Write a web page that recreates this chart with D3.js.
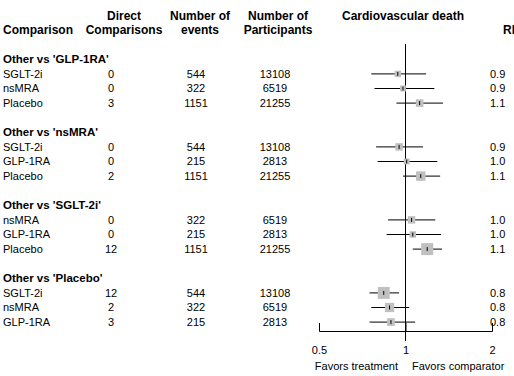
<!DOCTYPE html>
<html>
<head>
<meta charset="utf-8">
<script src="https://cdn.jsdelivr.net/npm/d3@7"></script>
<style>
  body { margin: 0; background: #fff; }
  svg { display: block; font-family: "Liberation Sans", Arial, sans-serif; }
</style>
</head>
<body>
<svg></svg>
<script>
// comparators (one block each) and the treatments compared against them
const comparators = ["GLP-1RA", "nsMRA", "SGLT-2i", "Placebo"];
const treatments = [
  ["SGLT-2i", "nsMRA", "Placebo"],
  ["SGLT-2i", "GLP-1RA", "Placebo"],
  ["nsMRA", "GLP-1RA", "Placebo"],
  ["SGLT-2i", "nsMRA", "GLP-1RA"]
];
const directComparisons = [[0, 0, 3], [0, 0, 2], [0, 0, 12], [12, 2, 3]];
const events = [[544, 322, 1151], [544, 215, 1151], [322, 215, 1151], [544, 322, 215]];
const participants = [[13108, 6519, 21255], [13108, 2813, 21255], [6519, 2813, 21255], [13108, 6519, 2813]];
const rr = [[0.94, 0.98, 1.12], [0.95, 1.01, 1.13], [1.05, 1.06, 1.19], [0.84, 0.88, 0.89]];
const rrLower = [[0.76, 0.78, 0.93], [0.79, 0.80, 0.98], [0.87, 0.86, 1.06], [0.75, 0.76, 0.75]];
const rrUpper = [[1.18, 1.26, 1.35], [1.15, 1.29, 1.32], [1.27, 1.33, 1.34], [0.95, 1.03, 1.08]];
const axisTicks = [0.5, 1, 2];

const width = 514, height = 376;
const svg = d3.select("svg").attr("width", width).attr("height", height);

const rowH = 14.6;
const rowY = i => 15.5 + rowH * i;

// flatten into rows
const rows = [];
let r = 3;
comparators.forEach((c, gi) => {
  rows.push({ type: "group", label: `Other vs '${c}'`, row: r++ });
  treatments[gi].forEach((t, j) => {
    rows.push({
      type: "item", label: t, row: r++,
      direct: directComparisons[gi][j], events: events[gi][j], n: participants[gi][j],
      est: rr[gi][j], lo: rrLower[gi][j], hi: rrUpper[gi][j]
    });
  });
  r++;
});
const items = rows.filter(d => d.type == "item");

const x = d3.scaleLog().domain([0.5, 2]).range([319, 492]);
// box size from precision of log RR
const prec = d => 1 / Math.pow(Math.log(d.hi) - Math.log(d.lo), 2);
const boxSize = d3.scaleSqrt().domain([0, d3.max(items, prec)]).range([0, 12]);

// headers
const hdr = svg.append("g").attr("font-weight", "bold").attr("font-size", 12);
const header = [
  { t: "Direct", x: 124, row: 0, a: "middle" },
  { t: "Comparisons", x: 124, row: 1, a: "middle" },
  { t: "Comparison", x: 3, row: 1, a: "start" },
  { t: "Number of", x: 200, row: 0, a: "middle" },
  { t: "events", x: 200, row: 1, a: "middle" },
  { t: "Number of", x: 278, row: 0, a: "middle" },
  { t: "Participants", x: 278, row: 1, a: "middle" },
  { t: "Cardiovascular death", x: 403, row: 0, a: "middle" },
  { t: "RR", x: 503, row: 1, a: "start" }
];
hdr.selectAll("text").data(header).enter().append("text")
  .attr("x", d => d.x).attr("y", d => rowY(d.row)).attr("dy", "0.35em")
  .attr("text-anchor", d => d.a).text(d => d.t);

svg.append("g").attr("font-weight", "bold").attr("font-size", 11.5)
  .selectAll("text").data(rows.filter(d => d.type == "group")).enter().append("text")
  .attr("x", 3).attr("y", d => rowY(d.row)).attr("dy", "0.35em").text(d => d.label);

const body = svg.append("g").attr("font-size", 11);
const cols = [
  { key: d => d.label, x: 3, a: "start" },
  { key: d => d.direct, x: 111, a: "middle" },
  { key: d => d.events, x: 196, a: "middle" },
  { key: d => d.n, x: 275, a: "middle" },
  { key: d => d3.format(".1f")(Math.floor(d.est * 10 + 1e-9) / 10), x: 490, a: "start" }
];
cols.forEach(c => {
  body.append("g").selectAll("text").data(items).enter().append("text")
    .attr("x", c.x).attr("y", d => rowY(d.row)).attr("dy", "0.35em")
    .attr("text-anchor", c.a).text(c.key);
});

// forest marks
const plot = svg.append("g");
const axisY = 331;
plot.append("line")
  .attr("x1", x(1)).attr("x2", x(1)).attr("y1", 44).attr("y2", 341)
  .attr("stroke", "#000");

const mk = plot.selectAll("g.mk").data(items).enter().append("g");
mk.append("line")
  .attr("x1", d => x(d.lo)).attr("x2", d => x(d.hi))
  .attr("y1", d => rowY(d.row)).attr("y2", d => rowY(d.row))
  .attr("stroke", "#000");
mk.append("rect")
  .attr("x", d => x(d.est) - boxSize(prec(d)) / 2)
  .attr("y", d => rowY(d.row) - boxSize(prec(d)) / 2)
  .attr("width", d => boxSize(prec(d))).attr("height", d => boxSize(prec(d)))
  .attr("fill", "#c0c0c0");
mk.append("line")
  .attr("x1", d => x(d.est)).attr("x2", d => x(d.est))
  .attr("y1", d => rowY(d.row) - 2).attr("y2", d => rowY(d.row) + 2)
  .attr("stroke", "#000");

const ax = svg.append("g").attr("transform", `translate(0,${axisY})`)
  .call(d3.axisBottom(x).tickValues(axisTicks).tickFormat(d3.format("")).tickSize(-8).tickPadding(15));
ax.selectAll("text").attr("font-size", 11).attr("font-family", "Liberation Sans, Arial, sans-serif").attr("fill", "#000");
ax.select(".domain").attr("stroke", "#000");
ax.selectAll(".tick line").attr("stroke", "#000");

svg.append("text").attr("x", 398).attr("y", 366).attr("dy", "0.35em")
  .attr("font-size", 11).attr("text-anchor", "end").text("Favors treatment");
svg.append("text").attr("x", 412).attr("y", 366).attr("dy", "0.35em")
  .attr("font-size", 11).attr("text-anchor", "start").text("Favors comparator");
</script>
</body>
</html>
